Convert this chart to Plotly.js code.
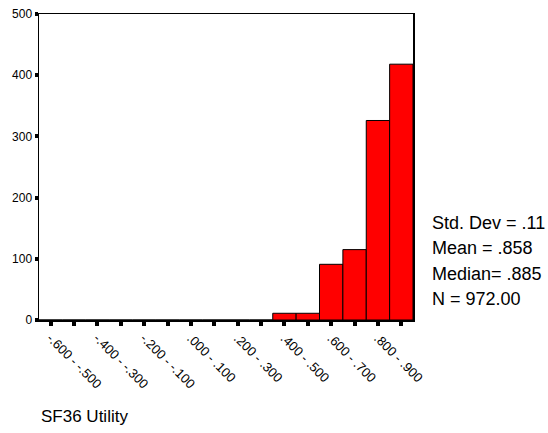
<!DOCTYPE html>
<html>
<head>
<meta charset="utf-8">
<script src="https://cdn.plot.ly/plotly-3.0.1.min.js"></script>
<style>
  html, body { margin: 0; padding: 0; background: #fff; }
  #chart { width: 548px; height: 433px; }
</style>
</head>
<body>
<div id="chart"></div>
<script>
// Histogram bins (width .05), labelled on every other bin
const binLabels = [
  "-.600 - -.500", "", "-.400 - -.300", "", "-.200 - -.100", "",
  ".000 - .100", "", ".200 - .300", "", ".400 - .500", "",
  ".600 - .700", "", ".800 - .900", ""
];
const counts = [0, 0, 0, 0, 0, 0, 0, 0, 0, 0, 11, 11, 91, 115, 326, 418];
const statLines = ["Std. Dev = .11", "Mean = .858", "Median= .885", "N = 972.00"];
const axisTitle = "SF36 Utility";
const yTicks = [0, 100, 200, 300, 400, 500];

const binIndex = counts.map((_, i) => i);
const FONT = "Liberation Sans, Arial, sans-serif";

const trace = {
  type: "bar",
  x: binIndex,
  y: counts,
  marker: { color: "#ff0000", line: { color: "#000000", width: 1 } },
  hoverinfo: "skip"
};

const statY = [0.317, 0.234, 0.150, 0.067];
const annotations = statLines.map((t, i) => ({
  text: t, xref: "paper", yref: "paper", x: 1.045, y: statY[i],
  xanchor: "left", yanchor: "middle", showarrow: false,
  font: { family: FONT, size: 18, color: "#000" }
}));
annotations.push({
  text: axisTitle, xref: "paper", yref: "paper", x: 0.0, y: -0.316,
  xanchor: "left", yanchor: "middle", showarrow: false,
  font: { family: FONT, size: 17, color: "#000" }
});

const layout = {
  width: 548, height: 433,
  margin: { l: 39, r: 135, t: 14, b: 113 },
  paper_bgcolor: "#fff", plot_bgcolor: "#fff",
  bargap: 0,
  showlegend: false,
  font: { family: FONT, size: 12, color: "#000" },
  xaxis: {
    range: [-0.5, binIndex.length - 0.5],
    tickmode: "array", tickvals: binIndex, ticktext: binLabels,
    tickangle: 45,
    ticks: "outside", ticklen: 4, tickwidth: 4, tickcolor: "#000",
    showline: true, linecolor: "#000", linewidth: 1.5, mirror: true,
    showgrid: false, zeroline: false,
    tickfont: { family: FONT, size: 13, color: "#000" }
  },
  yaxis: {
    range: [0, 500],
    tickmode: "array", tickvals: yTicks,
    ticks: "outside", ticklen: 3, tickwidth: 4, tickcolor: "#000",
    showline: true, linecolor: "#000", linewidth: 1.5, mirror: true,
    showgrid: false, zeroline: false,
    tickfont: { family: FONT, size: 12, color: "#000" }
  },
  annotations: annotations
};

Plotly.newPlot("chart", [trace], layout, { displayModeBar: false, staticPlot: true });
</script>
</body>
</html>
